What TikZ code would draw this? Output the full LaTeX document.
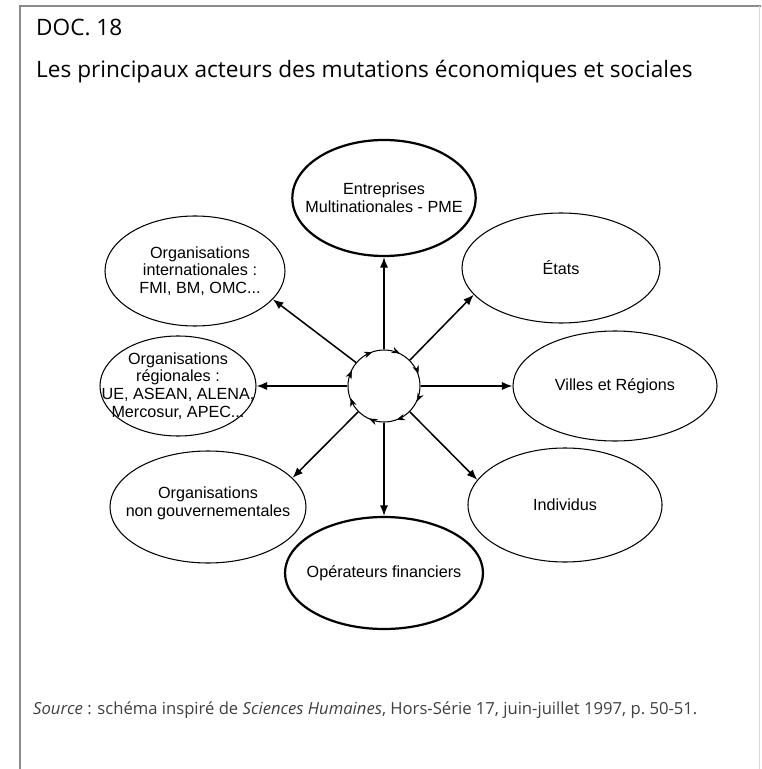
\documentclass[tikz,border=0pt]{standalone}
\usepackage{fontspec}
\setmainfont{Open Sans}
\newfontfamily\arialfont{Liberation Sans}
\usetikzlibrary{positioning,shapes.geometric,arrows.meta,decorations.markings}

\tikzset{
  actor/.style={ellipse,draw,line width=0.9pt,inner sep=0pt},
  major/.style={actor,line width=1.9pt},
  actortext/.style={align=center,font=\arialfont\fontsize{13.8}{15.1}\selectfont},
  spoke/.style={-{Latex[length=9pt,width=7pt]},line width=1.3pt},
}

\begin{document}
\begin{tikzpicture}[x=0.03cm,y=-0.03cm]
            \useasboundingbox (0,0) rectangle (761,769);
            % cadre
            \draw[black!45,line width=1.2pt] (20,769) -- (20,6) -- (761,6);
            \draw[black!15,line width=1pt] (759.5,6) -- (759.5,769);
            % titres
            \node[anchor=base west,inner sep=0pt,font=\fontsize{19.3}{23}\selectfont] (doc) at (36,36) {DOC. 18};
            \node[anchor=base west,inner sep=0pt,font=\fontsize{19.3}{23}\selectfont] (titre) at (36,78) {Les principaux acteurs des mutations économiques et sociales};
            % acteurs
            \node[circle,draw,line width=0.9pt,minimum size=2.16cm,inner sep=0pt] (hub) at (384,386) {};
            \node[major,minimum width=5.5cm,minimum height=3.48cm,label={[actortext]center:Entreprises\\Multinationales - PME}] (ent) at (384,198) {};
            \node[actor,minimum width=5.94cm,minimum height=3.3cm,label={[actortext]center:États}] (etats) at (561,268) {};
            \node[actor,minimum width=6.12cm,minimum height=3.3cm,label={[actortext]center:Villes et Régions}] (villes) at (615,386) {};
            \node[actor,minimum width=5.82cm,minimum height=3.42cm,label={[actortext]center:Individus}] (indiv) at (565,505) {};
            \node[major,minimum width=5.94cm,minimum height=3.36cm,label={[actortext]center:Opérateurs financiers}] (oper) at (384,573) {};
            \node[actor,minimum width=5.88cm,minimum height=3.36cm,label={[actortext,yshift=3pt]center:Organisations\\non gouvernementales}] (ong) at (208,507) {};
            \node[actor,minimum width=4.68cm,minimum height=3.0cm,label={[actortext]center:Organisations\\régionales :\\UE, ASEAN, ALENA,\\Mercosur, APEC...}] (reg) at (178,386) {};
            \node[actor,minimum width=5.4cm,minimum height=3.3cm,label={[actortext,xshift=0.15cm]center:Organisations\\internationales :\\FMI, BM, OMC...}] (intl) at (195,271) {};
            % cycle
            \path[decoration={markings,mark=between positions 0.07 and 1 step 0.125 with {\arrow{Stealth[length=7pt,width=5.5pt]}}},decorate]
                (hub.east) arc[start angle=0,end angle=-360,radius=1.08cm];
            % liaisons
            \draw[spoke] (hub.north) -- (ent.south);
            \draw[spoke] (hub.45) -- (etats.197);
            \draw[spoke] (hub.east) -- (villes.west);
            \draw[spoke] (hub.-45) -- (indiv.164);
            \draw[spoke] (hub.south) -- (oper.north);
            \draw[spoke] (hub.225) -- (ong.19);
            \draw[spoke] (hub.west) -- (reg.east);
            \draw[spoke] (hub.140) -- (intl.340);
            % source
            \node[anchor=base west,inner sep=0pt,text=black!75,font=\fontsize{14.2}{16}\selectfont] (source) at (33,714)
                {\textit{Source} : schéma inspiré de \textit{Sciences Humaines}, Hors-Série 17, juin-juillet 1997, p.~50-51.};
\end{tikzpicture}
\end{document}
